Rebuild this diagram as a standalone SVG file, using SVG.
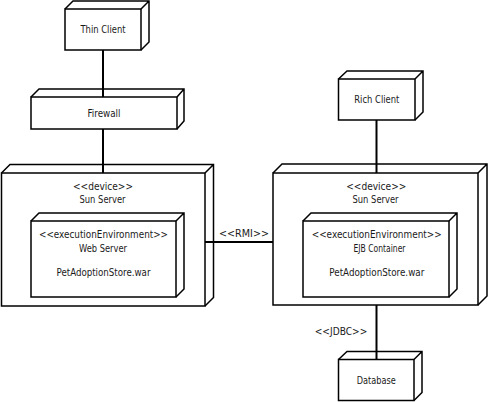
<svg xmlns="http://www.w3.org/2000/svg" width="488" height="402" viewBox="0 0 488 402">
<style>
.box{fill:#fff;stroke:#000;stroke-width:1.5;stroke-linejoin:miter}
.side{fill:none;stroke:#000;stroke-width:1.5}
.conn{stroke:#000;stroke-width:2;fill:none}
text{font-family:"Liberation Sans Narrow","DejaVu Sans Condensed","Liberation Sans",sans-serif;font-size:11px;fill:#1a1a1a;text-anchor:middle}
</style>
<rect width="488" height="402" fill="#fff"/>
<g id="connectors">
<line class="conn" x1="103" y1="50" x2="103" y2="97"/>
<line class="conn" x1="103" y1="129" x2="103" y2="173"/>
<line class="conn" x1="376.5" y1="120" x2="376.5" y2="173"/>
<line class="conn" x1="205" y1="242" x2="273" y2="242"/>
<text x="244" y="237.3" textLength="50" lengthAdjust="spacingAndGlyphs">&lt;&lt;RMI&gt;&gt;</text>
<line class="conn" x1="376.5" y1="305" x2="376.5" y2="359"/>
<text x="341" y="335" textLength="52.5" lengthAdjust="spacingAndGlyphs">&lt;&lt;JDBC&gt;&gt;</text>
</g>
<g id="thin-client">
<rect class="box" x="65" y="9" width="76" height="41"/>
<path class="side" d="M65,9 L73,1 L149,1 L149,42 L141,50 M141,9 L149,1"/>
<text x="103" y="33" textLength="45" lengthAdjust="spacingAndGlyphs">Thin Client</text>
</g>
<g id="firewall">
<rect class="box" x="31" y="97" width="146" height="32"/>
<path class="side" d="M31,97 L39,89 L184,89 L184,121 L177,129 M177,97 L184,89"/>
<text x="104" y="117" textLength="33" lengthAdjust="spacingAndGlyphs">Firewall</text>
</g>
<g id="sun-server-left">
<rect class="box" x="1.5" y="173" width="203.5" height="133"/>
<path class="side" d="M1.5,173 L10,164.5 L213.5,164.5 L213.5,297.5 L205,306 M205,173 L213.5,164.5"/>
<text x="103" y="190" textLength="60" lengthAdjust="spacingAndGlyphs">&lt;&lt;device&gt;&gt;</text>
<text x="102.5" y="203.3" textLength="46" lengthAdjust="spacingAndGlyphs">Sun Server</text>
</g>
<g id="web-server">
<rect class="box" x="31" y="221" width="145" height="76"/>
<path class="side" d="M31,221 L39,213 L184,213 L184,289 L176,297 M176,221 L184,213"/>
<text x="103.5" y="238.3" textLength="129" lengthAdjust="spacingAndGlyphs">&lt;&lt;executionEnvironment&gt;&gt;</text>
<text x="103" y="251.7" textLength="48" lengthAdjust="spacingAndGlyphs">Web Server</text>
<text x="103.5" y="275.7" textLength="94" lengthAdjust="spacingAndGlyphs">PetAdoptionStore.war</text>
</g>
<g id="sun-server-right">
<rect class="box" x="273" y="173" width="205" height="132"/>
<path class="side" d="M273,173 L282,164 L487,164 L487,296 L478,305 M478,173 L487,164"/>
<text x="376.3" y="189.5" textLength="60" lengthAdjust="spacingAndGlyphs">&lt;&lt;device&gt;&gt;</text>
<text x="375.5" y="203.3" textLength="46" lengthAdjust="spacingAndGlyphs">Sun Server</text>
</g>
<g id="ejb-container">
<rect class="box" x="303" y="221" width="146" height="76"/>
<path class="side" d="M303,221 L311,213 L457,213 L457,289 L449,297 M449,221 L457,213"/>
<text x="376.7" y="238.3" textLength="130" lengthAdjust="spacingAndGlyphs">&lt;&lt;executionEnvironment&gt;&gt;</text>
<text x="379.5" y="251.7" textLength="52" lengthAdjust="spacingAndGlyphs">EJB Container</text>
<text x="376.8" y="275.7" textLength="95" lengthAdjust="spacingAndGlyphs">PetAdoptionStore.war</text>
</g>
<g id="rich-client">
<rect class="box" x="338.5" y="79" width="76.5" height="41"/>
<path class="side" d="M338.5,79 L347,71 L423,71 L423,112 L415,120 M415,79 L423,71"/>
<text x="376.8" y="102.7" textLength="45" lengthAdjust="spacingAndGlyphs">Rich Client</text>
</g>
<g id="database">
<rect class="box" x="338.5" y="359.5" width="75.5" height="41"/>
<path class="side" d="M338.5,359.5 L347,351.5 L422,351.5 L422,392.5 L414,400.5 M414,359.5 L422,351.5"/>
<text x="376.2" y="384.3" textLength="39" lengthAdjust="spacingAndGlyphs">Database</text>
</g>
</svg>
